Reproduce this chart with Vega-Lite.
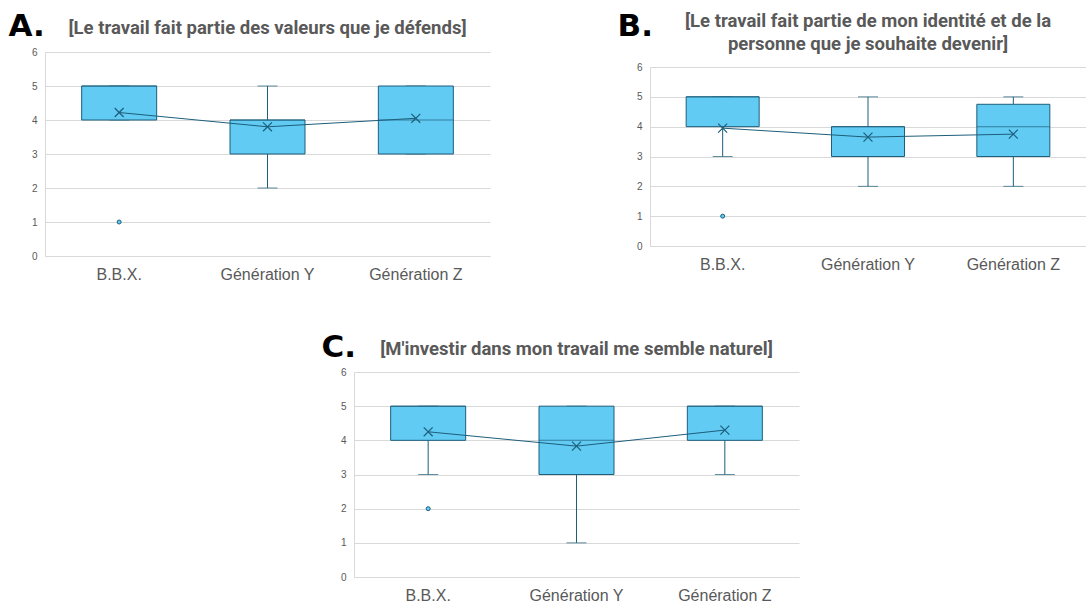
{
  "$schema": "https://vega.github.io/schema/vega-lite/v6.json",
  "padding": {"left": 8, "top": 10, "right": 0, "bottom": 0},
  "background": "white",
  "datasets": {
    "stats": [
      {"panel": "A", "group": "B.B.X.", "lo": 4, "q1": 4, "med": 5, "q3": 5, "hi": 5, "mean": 4.22},
      {"panel": "A", "group": "Génération Y", "lo": 2, "q1": 3, "med": 4, "q3": 4, "hi": 5, "mean": 3.8},
      {"panel": "A", "group": "Génération Z", "lo": 3, "q1": 3, "med": 4, "q3": 5, "hi": 5, "mean": 4.05},
      {"panel": "B", "group": "B.B.X.", "lo": 3, "q1": 4, "med": 5, "q3": 5, "hi": 5, "mean": 3.95},
      {"panel": "B", "group": "Génération Y", "lo": 2, "q1": 3, "med": 4, "q3": 4, "hi": 5, "mean": 3.65},
      {"panel": "B", "group": "Génération Z", "lo": 2, "q1": 3, "med": 4, "q3": 4.75, "hi": 5, "mean": 3.75},
      {"panel": "C", "group": "B.B.X.", "lo": 3, "q1": 4, "med": 5, "q3": 5, "hi": 5, "mean": 4.25},
      {"panel": "C", "group": "Génération Y", "lo": 1, "q1": 3, "med": 4, "q3": 5, "hi": 5, "mean": 3.83},
      {"panel": "C", "group": "Génération Z", "lo": 3, "q1": 4, "med": 5, "q3": 5, "hi": 5, "mean": 4.3}
    ],
    "outliers": [
      {"panel": "A", "group": "B.B.X.", "value": 1},
      {"panel": "B", "group": "B.B.X.", "value": 1},
      {"panel": "C", "group": "B.B.X.", "value": 2}
    ]
  },
  "config": {
    "view": {"stroke": null},
    "concat": {"spacing": 20},
    "title": {"font": "Liberation Sans Narrow, Roboto, sans-serif", "fontSize": 18.5, "fontWeight": "bold", "color": "#595959", "anchor": "middle"},
    "axisY": {"grid": true, "gridColor": "#d9d9d9", "domainColor": "#d9d9d9", "ticks": false, "labelColor": "#595959", "labelFontSize": 10, "labelFont": "Liberation Sans", "labelPadding": 8, "tickCount": 6, "titleAngle": 0, "titleFont": "DejaVu Sans", "titleFontSize": 31, "titleFontWeight": "bold", "titleColor": "#000000", "titleAlign": "left", "titleBaseline": "alphabetic"},
    "axisX": {"domainColor": "#d9d9d9", "ticks": false, "labelColor": "#595959", "labelFontSize": 16, "labelFont": "Liberation Sans", "labelPadding": 10, "labelAngle": 0, "title": null}
  },
  "vconcat": [
    {
      "hconcat": [
        {
          "width": 445, "height": 204,
          "title": {"text": "[Le travail fait partie des valeurs que je défends]", "offset": -27},
          "data": {"name": "stats"},
          "transform": [{"filter": "datum.panel == 'A'"}],
          "encoding": {"x": {"field": "group", "type": "nominal", "sort": ["B.B.X.", "Génération Y", "Génération Z"], "title": null}},
          "layer": [
            {"mark": {"type": "rule", "color": "#1D5E7B"}, "encoding": {"y": {"field": "lo", "type": "quantitative", "scale": {"domain": [0, 6]}, "title": "A.", "axis": {"titleX": -37, "titleY": -17}}, "y2": {"field": "hi"}}},
            {"mark": {"type": "tick", "color": "#1D5E7B", "size": 20, "thickness": 1}, "encoding": {"y": {"field": "lo", "type": "quantitative", "title": "A."}}},
            {"mark": {"type": "tick", "color": "#1D5E7B", "size": 20, "thickness": 1}, "encoding": {"y": {"field": "hi", "type": "quantitative", "title": "A."}}},
            {"mark": {"type": "bar", "size": 75, "fill": "#61CBF3", "stroke": "#1D5E7B", "strokeWidth": 1}, "encoding": {"y": {"field": "q1", "type": "quantitative", "title": "A."}, "y2": {"field": "q3"}}},
            {"mark": {"type": "tick", "color": "#1D5E7B", "size": 75, "thickness": 1}, "encoding": {"y": {"field": "med", "type": "quantitative", "title": "A."}}},
            {"mark": {"type": "line", "color": "#1D5E7B", "strokeWidth": 1}, "encoding": {"y": {"field": "mean", "type": "quantitative", "title": "A."}}},
            {"mark": {"type": "point", "shape": "M-1,-1L1,1M-1,1L1,-1", "filled": false, "color": "#1D5E7B", "strokeWidth": 1.2, "size": 80, "opacity": 1}, "encoding": {"y": {"field": "mean", "type": "quantitative", "title": "A."}}},
            {"data": {"name": "outliers"}, "transform": [{"filter": "datum.panel == 'A'"}], "mark": {"type": "point", "shape": "circle", "filled": true, "fill": "#61CBF3", "stroke": "#1D5E7B", "strokeWidth": 1, "size": 16, "opacity": 1}, "encoding": {"y": {"field": "value", "type": "quantitative", "title": "A."}}}
          ]
        },
        {
          "width": 436, "height": 194,
          "title": {"text": ["[Le travail fait partie de mon identité et de la", "personne que je souhaite devenir]"], "lineHeight": 23, "offset": -43},
          "data": {"name": "stats"},
          "transform": [{"filter": "datum.panel == 'B'"}],
          "encoding": {"x": {"field": "group", "type": "nominal", "sort": ["B.B.X.", "Génération Y", "Génération Z"], "title": null}},
          "layer": [
            {"mark": {"type": "rule", "color": "#1D5E7B"}, "encoding": {"y": {"field": "lo", "type": "quantitative", "scale": {"domain": [0, 6], "range": [194, 15]}, "title": "B.", "axis": {"titleX": -33, "titleY": -17}}, "y2": {"field": "hi"}}},
            {"mark": {"type": "tick", "color": "#1D5E7B", "size": 20, "thickness": 1}, "encoding": {"y": {"field": "lo", "type": "quantitative", "title": "B."}}},
            {"mark": {"type": "tick", "color": "#1D5E7B", "size": 20, "thickness": 1}, "encoding": {"y": {"field": "hi", "type": "quantitative", "title": "B."}}},
            {"mark": {"type": "bar", "size": 73, "fill": "#61CBF3", "stroke": "#1D5E7B", "strokeWidth": 1}, "encoding": {"y": {"field": "q1", "type": "quantitative", "title": "B."}, "y2": {"field": "q3"}}},
            {"mark": {"type": "tick", "color": "#1D5E7B", "size": 73, "thickness": 1}, "encoding": {"y": {"field": "med", "type": "quantitative", "title": "B."}}},
            {"mark": {"type": "line", "color": "#1D5E7B", "strokeWidth": 1}, "encoding": {"y": {"field": "mean", "type": "quantitative", "title": "B."}}},
            {"mark": {"type": "point", "shape": "M-1,-1L1,1M-1,1L1,-1", "filled": false, "color": "#1D5E7B", "strokeWidth": 1.2, "size": 80, "opacity": 1}, "encoding": {"y": {"field": "mean", "type": "quantitative", "title": "B."}}},
            {"data": {"name": "outliers"}, "transform": [{"filter": "datum.panel == 'B'"}], "mark": {"type": "point", "shape": "circle", "filled": true, "fill": "#61CBF3", "stroke": "#1D5E7B", "strokeWidth": 1, "size": 16, "opacity": 1}, "encoding": {"y": {"field": "value", "type": "quantitative", "title": "B."}}}
          ]
        }
      ],
      "spacing": 127
    },
    {
      "hconcat": [
        {"width": 256, "height": 10, "data": {"values": []}, "mark": {"type": "point", "opacity": 0}, "encoding": {}},
        {
          "width": 445, "height": 205,
          "title": {"text": "[M'investir dans mon travail me semble naturel]", "offset": -27},
          "data": {"name": "stats"},
          "transform": [{"filter": "datum.panel == 'C'"}],
          "encoding": {"x": {"field": "group", "type": "nominal", "sort": ["B.B.X.", "Génération Y", "Génération Z"], "title": null}},
          "layer": [
            {"mark": {"type": "rule", "color": "#1D5E7B"}, "encoding": {"y": {"field": "lo", "type": "quantitative", "scale": {"domain": [0, 6]}, "title": "C.", "axis": {"titleX": -33, "titleY": -16}}, "y2": {"field": "hi"}}},
            {"mark": {"type": "tick", "color": "#1D5E7B", "size": 20, "thickness": 1}, "encoding": {"y": {"field": "lo", "type": "quantitative", "title": "C."}}},
            {"mark": {"type": "tick", "color": "#1D5E7B", "size": 20, "thickness": 1}, "encoding": {"y": {"field": "hi", "type": "quantitative", "title": "C."}}},
            {"mark": {"type": "bar", "size": 75, "fill": "#61CBF3", "stroke": "#1D5E7B", "strokeWidth": 1}, "encoding": {"y": {"field": "q1", "type": "quantitative", "title": "C."}, "y2": {"field": "q3"}}},
            {"mark": {"type": "tick", "color": "#1D5E7B", "size": 75, "thickness": 1}, "encoding": {"y": {"field": "med", "type": "quantitative", "title": "C."}}},
            {"mark": {"type": "line", "color": "#1D5E7B", "strokeWidth": 1}, "encoding": {"y": {"field": "mean", "type": "quantitative", "title": "C."}}},
            {"mark": {"type": "point", "shape": "M-1,-1L1,1M-1,1L1,-1", "filled": false, "color": "#1D5E7B", "strokeWidth": 1.2, "size": 80, "opacity": 1}, "encoding": {"y": {"field": "mean", "type": "quantitative", "title": "C."}}},
            {"data": {"name": "outliers"}, "transform": [{"filter": "datum.panel == 'C'"}], "mark": {"type": "point", "shape": "circle", "filled": true, "fill": "#61CBF3", "stroke": "#1D5E7B", "strokeWidth": 1, "size": 16, "opacity": 1}, "encoding": {"y": {"field": "value", "type": "quantitative", "title": "C."}}}
          ]
        }
      ],
      "spacing": 20
    }
  ],
  "spacing": 49
}
